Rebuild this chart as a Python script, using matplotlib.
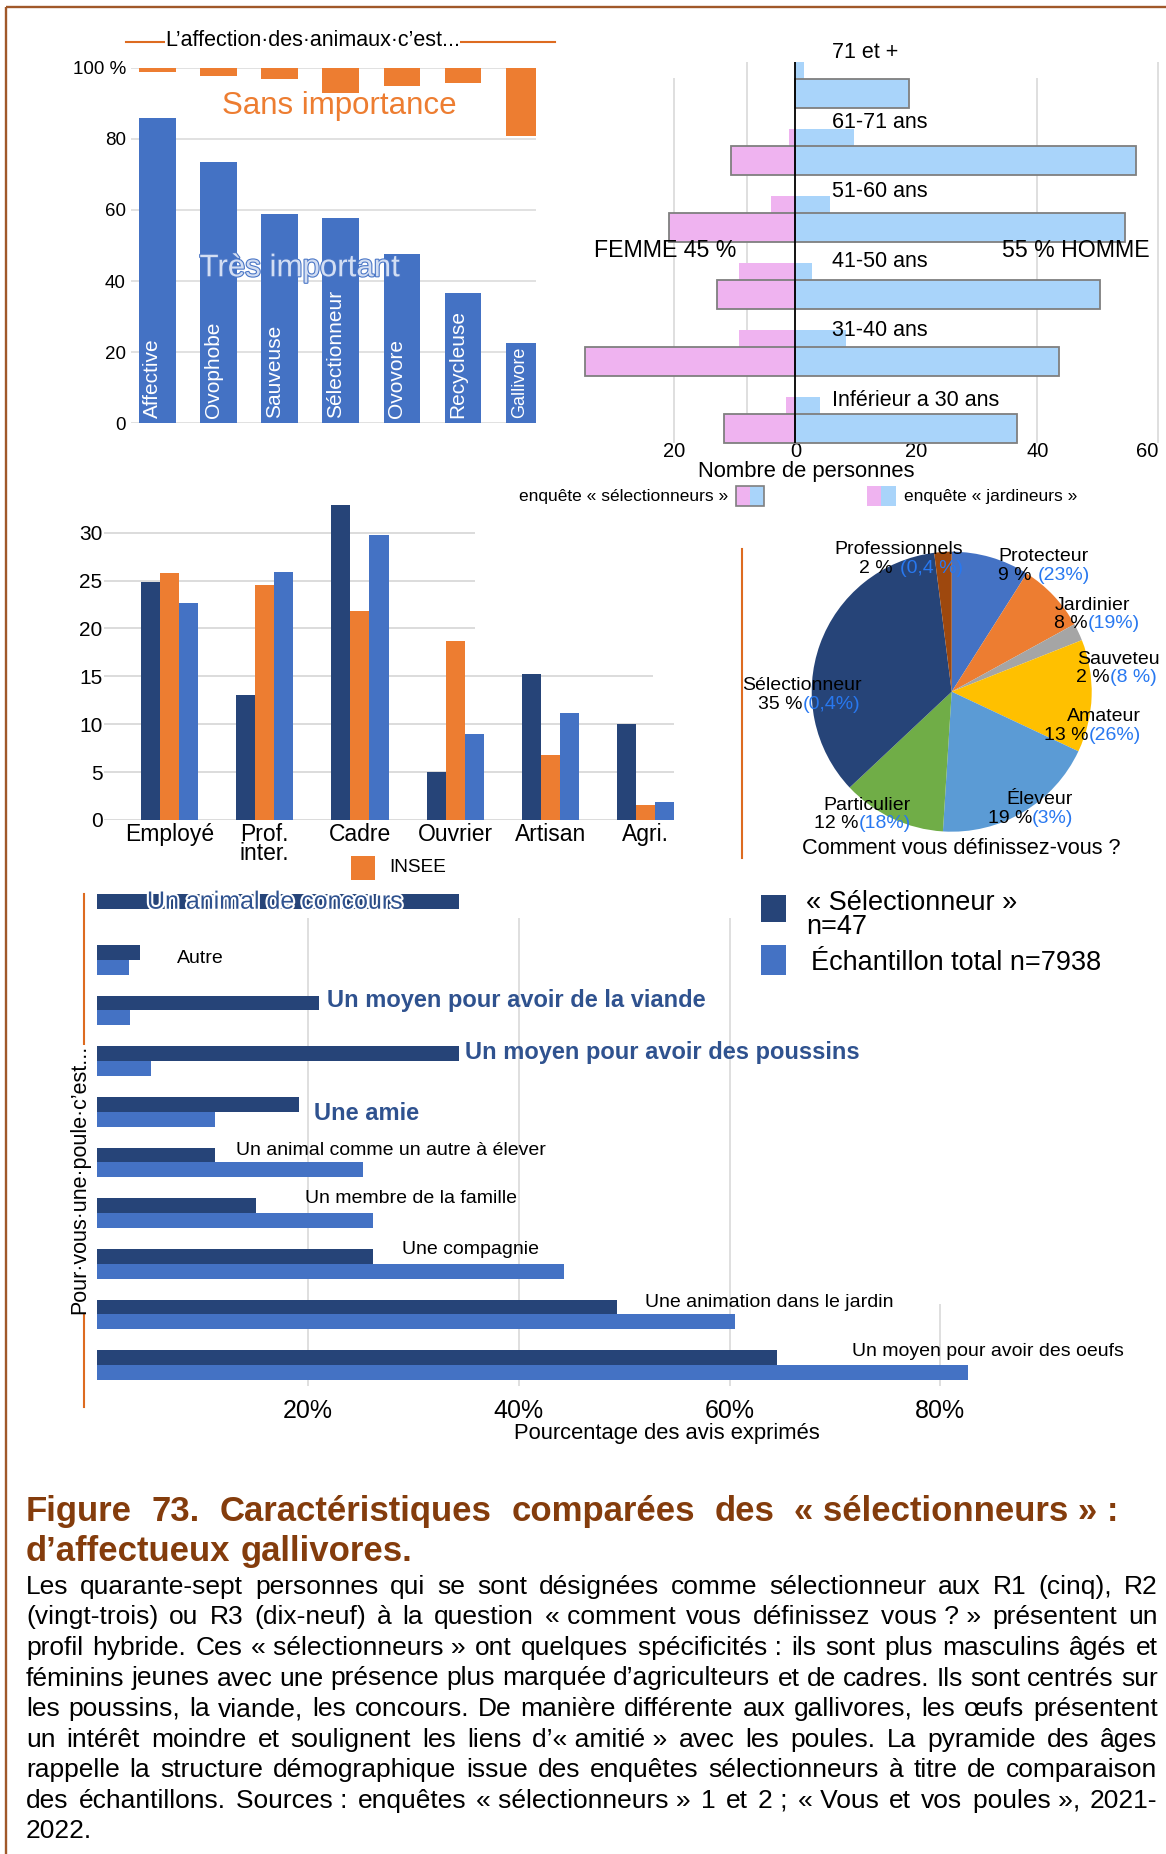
import matplotlib
matplotlib.use("Agg")
import matplotlib.pyplot as plt
import matplotlib.patheffects as pe
from matplotlib.patches import Rectangle
import numpy as np

plt.rcParams['font.family'] = ['Liberation Sans', 'DejaVu Sans']

# --- data -----------------------------------------------------------------
profils = ['Affective', 'Ovophobe', 'Sauveuse', 'Sélectionneur', 'Ovovore', 'Recycleuse', 'Gallivore']
tres_important = [85.8, 73.6, 58.8, 57.6, 47.6, 36.7, 22.7]
sans_importance = [1.1, 2.3, 3.3, 7.2, 5.2, 4.2, 19.2]
pct_ticks = [0, 20, 40, 60, 80, 100]
pct_labels = ['0', '20', '40', '60', '80', '100 %']

ages = ['Inférieur a 30 ans', '31-40 ans', '41-50 ans', '51-60 ans', '61-71 ans', '71 et +']
sel_femmes = [11.8, 34.7, 12.9, 20.9, 10.7, 0]
sel_hommes = [36.7, 43.6, 50.4, 54.5, 56.3, 18.7]
jard_femmes = [1.5, 9.3, 9.3, 4.0, 1.1, 0]
jard_hommes = [4.0, 8.4, 2.8, 5.7, 9.7, 1.5]
pyr_ticks = [-20, 0, 20, 40, 60]
pyr_labels = ['20', '0', '20', '40', '60']

csp = ['Employé', 'Prof.\ninter.', 'Cadre', 'Ouvrier', 'Artisan', 'Agri.']
csp_selectionneurs = [24.8, 13.1, 32.9, 5.0, 15.2, 10.0]
csp_insee = [25.8, 24.5, 21.8, 18.7, 6.8, 1.6]
csp_total = [22.7, 25.9, 29.8, 9.0, 11.2, 1.9]
csp_ticks = [0, 5, 10, 15, 20, 25, 30]

definitions = ['Protecteur', 'Jardinier', 'Sauveteu', 'Amateur', 'Éleveur', 'Particulier',
               'Sélectionneur', 'Professionnels']
def_parts = [9, 8, 2, 13, 19, 12, 35, 2]
def_total = ['(23%)', '(19%)', '(8 %)', '(26%)', '(3%)', '(18%)', '(0,4%)', '(0,4 %)']

poule = ['Un animal de concours', 'Autre', 'Un moyen pour avoir de la viande',
         'Un moyen pour avoir des poussins', 'Une amie', 'Un animal comme un autre à élever',
         'Un membre de la famille', 'Une compagnie', 'Une animation dans le jardin',
         'Un moyen pour avoir des oeufs']
poule_sel = [34.3, 4.1, 21.1, 34.3, 19.2, 11.2, 15.1, 26.2, 49.3, 64.5]
poule_total = [0, 3.0, 3.1, 5.1, 11.2, 25.2, 26.2, 44.3, 60.5, 82.6]
poule_ticks = [20, 40, 60, 80]
poule_tick_labels = ['20%', '40%', '60%', '80%']

titre = ['Figure 73. Caractéristiques comparées des «\xa0sélectionneurs\xa0»\xa0:',
         'd’affectueux gallivores.']
texte = [
    'Les quarante-sept personnes qui se sont désignées comme sélectionneur aux R1 (cinq), R2',
    '(vingt-trois) ou R3 (dix-neuf) à la question «\xa0comment vous définissez vous\xa0?\xa0» présentent un',
    'profil hybride. Ces «\xa0sélectionneurs\xa0» ont quelques spécificités\xa0: ils sont plus masculins âgés et',
    'féminins jeunes avec une présence plus marquée d’agriculteurs et de cadres. Ils sont centrés sur',
    'les poussins, la viande, les concours. De manière différente aux gallivores, les œufs présentent',
    'un intérêt moindre et soulignent les liens d’«\xa0amitié\xa0» avec les poules. La pyramide des âges',
    'rappelle la structure démographique issue des enquêtes sélectionneurs à titre de comparaison',
    'des échantillons. Sources\xa0: enquêtes «\xa0sélectionneurs\xa0» 1 et 2\xa0; «\xa0Vous et vos poules\xa0», 2021-',
    '2022.',
]

# --- colours ---------------------------------------------------------------
NAVY = '#264478'
BLUE = '#4472c4'
ORANGE = '#ed7d31'
PINK = '#efb3f0'
SKY = '#a9d4fa'
GRID = '#d9d9d9'
RULE = '#dd6b20'
FRAME = '#a0582a'
BROWN = '#843c0c'
VAL_BLUE = '#2878f0'
LAB_BLUE = '#2f528f'
pie_colors = ['#4472c4', '#ed7d31', '#a5a5a5', '#ffc000', '#5b9bd5', '#70ad47', '#264478', '#9e480e']

W, H = 1166, 1854
fig = plt.figure(figsize=(W / 100, H / 100), dpi=100)


def box(l, t, r, b):
    ax = fig.add_axes([l / W, 1 - b / H, (r - l) / W, (b - t) / H])
    ax.patch.set_alpha(0)
    for s in ax.spines.values():
        s.set_visible(False)
    return ax


# --- l'affection des animaux ------------------------------------------------
ax1 = box(131, 67.7, 536.4, 423.3)
x1 = np.arange(len(profils))
ax1.bar(x1, tres_important, width=0.6, color=BLUE, zorder=2)
ax1.bar(x1, sans_importance, bottom=100 - np.array(sans_importance), width=0.6, color=ORANGE, zorder=2)
ax1.set_xlim(-0.43, 6.2)
ax1.set_ylim(0, 100)
ax1.set_xticks([])
ax1.set_yticks(pct_ticks, pct_labels, fontsize=13.5)
ax1.tick_params(axis='y', length=0, pad=3.7)
ax1.yaxis.grid(True, color=GRID, lw=1.1)
ax1.set_axisbelow(True)
# the last label is squeezed to stay inside its short bar
name_size = [15, 15, 15, 15, 15, 15, 13]
for i, name in enumerate(profils):
    ax1.text(i - 0.08, 1.5, name, rotation=90, ha='center', va='bottom', color='white',
             fontsize=name_size[i], zorder=3)
ax1.text(2.97, 89.2, 'Sans importance', color=ORANGE, fontsize=22.5, ha='center', va='center')
ax1.text(2.33, 43.6, 'Très important', color='#d3def3', fontsize=22.5, ha='center', va='center', zorder=4,
         path_effects=[pe.withStroke(linewidth=1.6, foreground='#4a76c6')])

# --- pyramide des âges --------------------------------------------------------
ax2 = box(575, 55, 1160, 445)
y2 = np.arange(len(ages))
ax2.barh(y2 + 0.341, jard_hommes, height=0.254, color=SKY, zorder=2)
ax2.barh(y2 + 0.341, -np.array(jard_femmes), height=0.254, color=PINK, zorder=2)
ax2.barh(y2, sel_hommes, height=0.428, color=SKY, edgecolor='#7f7f7f', lw=1.3, zorder=2)
ax2.barh(y2, -np.array(sel_femmes), height=0.428, color=PINK, edgecolor='#7f7f7f', lw=1.3, zorder=2)
ax2.vlines([-20, 40], -0.22, 5.224, color=GRID, lw=1.2, zorder=0)
ax2.vlines([-8, 60], -0.22, 5.472, color=GRID, lw=1.2, zorder=0)
ax2.vlines(0, -0.22, 5.472, color='black', lw=1.3, zorder=3)
ax2.set_xlim(-36.43, 60.26)
ax2.set_ylim(-0.251, 5.572)
ax2.set_yticks([])
ax2.set_xticks(pyr_ticks, pyr_labels, fontsize=14.5)
ax2.tick_params(axis='x', length=0, pad=-2)
ax2.get_xticklabels()[-1].set_ha('right')
for i, age in enumerate(ages):
    ax2.text(6.1, 0.42 + 1.037 * i, age, fontsize=15.5, va='center', ha='left')

# --- catégories socio-professionnelles ---------------------------------------
ax3 = box(104, 500, 680, 820)
x3 = np.arange(len(csp))
ax3.bar(x3 - 0.2, csp_selectionneurs, 0.2, color=NAVY, zorder=2)
ax3.bar(x3, csp_insee, 0.2, color=ORANGE, zorder=2)
ax3.bar(x3 + 0.2, csp_total, 0.2, color=BLUE, zorder=2)
ax3.set_xlim(-0.687, 5.36)
ax3.set_ylim(0, 33.41)
grid_end = [5.30, 5.30, 5.30, 5.08, 3.21, 3.21, 3.21]
ax3.hlines(csp_ticks, -0.687, grid_end, color=GRID, lw=1.3, zorder=0)
ax3.set_yticks(csp_ticks, [str(v) for v in csp_ticks], fontsize=15)
ax3.set_xticks(x3, csp, fontsize=16.5)
ax3.tick_params(length=0)
ax3.tick_params(axis='y', pad=1)
ax3.tick_params(axis='x', pad=2)
for lab in ax3.get_xticklabels():
    lab.set_linespacing(0.8)

# --- comment vous définissez-vous ? -------------------------------------------
ax4 = box(811.7, 551.7, 1091.7, 831.7)
ax4.pie(def_parts, colors=pie_colors, startangle=90, counterclock=False, radius=1)
ax4.set_xlim(-1, 1)
ax4.set_ylim(-1, 1)

# --- pour vous une poule c'est... ---------------------------------------------
ax5 = box(97, 890, 1166, 1395)
r5 = np.arange(len(poule))
ax5.barh(r5 - 0.146, poule_sel, height=0.292, color=NAVY, zorder=2)
ax5.barh(r5 + 0.146, poule_total, height=0.292, color=BLUE, zorder=2)
ax5.vlines([20, 40, 60], 0.176, 9.41, color=GRID, lw=1.2, zorder=0)
ax5.vlines([80], 7.79, 9.41, color=GRID, lw=1.2, zorder=0)
ax5.set_xlim(0, 101.4)
ax5.set_ylim(9.59, -0.377)
ax5.set_yticks([])
ax5.set_xticks(poule_ticks, poule_tick_labels, fontsize=18)
ax5.tick_params(axis='x', length=0, pad=3)

lab_x = [4.74, 7.59, 21.8, 34.9, 20.6, 13.2, 19.7, 28.9, 51.95, 71.6]
lab_dy = [-0.146, -0.03, -0.2, -0.16, 0.04, -0.24, -0.28, -0.28, -0.24, -0.26]
for i, lab in enumerate(poule):
    if i == 0:
        ax5.text(lab_x[i], i + lab_dy[i], lab, fontsize=18, color=LAB_BLUE, va='center', zorder=4,
                 path_effects=[pe.withStroke(linewidth=3, foreground='white')])
    elif i in (2, 3, 4):
        ax5.text(lab_x[i], i + lab_dy[i], lab, fontsize=17, fontweight='bold', color=LAB_BLUE, va='center')
    else:
        ax5.text(lab_x[i], i + lab_dy[i], lab, fontsize=14, color='black', va='center')

# --- free text, legends and page rules (pixel coordinates) --------------------
ov = fig.add_axes([0, 0, 1, 1], zorder=10)
ov.set_xlim(0, W)
ov.set_ylim(H, 0)
ov.axis('off')

ov.plot([6, 6], [7, H], color=FRAME, lw=1.7, solid_capstyle='butt')
ov.plot([6, W], [7, 7], color=FRAME, lw=1.7, solid_capstyle='butt')

ov.plot([125.8, 555], [42.3, 42.3], color=RULE, lw=1.5)
ov.text(312.6, 40, 'L’affection·des·animaux·c’est...', fontsize=15.5, ha='center', va='center',
        bbox=dict(facecolor='white', edgecolor='none', pad=0))

ov.text(665.6, 250.7, 'FEMME 45 %', fontsize=16.7, ha='center', va='center')
ov.text(1075.5, 250.7, '55 % HOMME', fontsize=16.7, ha='center', va='center')
ov.text(806.6, 471, 'Nombre de personnes', fontsize=15.8, ha='center', va='center')

ov.text(519.4, 496.7, 'enquête « sélectionneurs »', fontsize=12.5, va='center')
ov.add_patch(Rectangle((736, 486), 13.75, 20, facecolor=PINK, edgecolor='none'))
ov.add_patch(Rectangle((749.75, 486), 13.75, 20, facecolor=SKY, edgecolor='none'))
ov.add_patch(Rectangle((736, 486), 27.5, 20, facecolor='none', edgecolor='#7f7f7f', lw=1.2))
ov.add_patch(Rectangle((867, 486), 14.3, 20, facecolor=PINK, edgecolor='none'))
ov.add_patch(Rectangle((881.3, 486), 14.3, 20, facecolor=SKY, edgecolor='none'))
ov.text(903.5, 496.7, 'enquête « jardineurs »', fontsize=12.5, va='center')

ov.add_patch(Rectangle((351, 856), 24, 24, facecolor=ORANGE, edgecolor='none'))
ov.text(389.3, 867.7, 'INSEE', fontsize=13.7, va='center')

# pie labels: name line, then share among selectors (black) and whole sample (blue)
ov.plot([741.7, 741.7], [549.3, 858.3], color=RULE, lw=1.5)
name_pos = [(998.3, 556.7, 'left'), (1055, 605, 'left'), (1076.7, 659.3, 'left'),
            (1066.7, 716.7, 'left'), (1006.7, 800, 'left'), (823.3, 805, 'left'),
            (741.7, 686, 'left'), (898.3, 549.3, 'center')]
val_pos = [(1031, 1038, 575), (1088, 1088, 623.3), (1110, 1110, 677.7), (1089, 1089, 735),
           (1032, 1032, 818.3), (859, 859, 823.3), (803, 803, 704.3), (893, 900, 568.3)]
for name, part, tot, (nx, ny, nha), (bx, vx, vy) in zip(definitions, def_parts, def_total, name_pos, val_pos):
    ov.text(nx, ny, name, fontsize=14, ha=nha, va='center')
    ov.text(bx, vy, f'{part} %', fontsize=14, ha='right', va='center')
    ov.text(vx, vy, tot, fontsize=14, ha='left', va='center', color=VAL_BLUE)
ov.text(960.8, 848.3, 'Comment vous définissez-vous ?', fontsize=15.7, ha='center', va='center')

ov.plot([84, 84], [894.3, 1407.2], color=RULE, lw=1.5)
ov.text(79.6, 1179.6, 'Pour·vous·une·poule·c’est...', fontsize=15.5, rotation=90, ha='center', va='center',
        bbox=dict(facecolor='white', edgecolor='none', pad=0))
ov.text(666.6, 1433.8, 'Pourcentage des avis exprimés', fontsize=15.8, ha='center', va='center')

ov.add_patch(Rectangle((760.7, 895), 25, 26.7, facecolor=NAVY, edgecolor='none'))
ov.add_patch(Rectangle((760.7, 945), 25, 30, facecolor=BLUE, edgecolor='none'))
ov.text(806, 902.7, '« Sélectionneur »', fontsize=19.5, va='center')
ov.text(806, 926.7, 'n=47', fontsize=19.5, va='center')
ov.text(811, 963.3, 'Échantillon total n=7938', fontsize=19.5, va='center')

# --- caption, justified word by word ------------------------------------------
renderer = fig.canvas.get_renderer()


def justify(line, y, x0, x1, size, last=False, **kw):
    words = line.split(' ')
    arts = [ov.text(x0, y, w, fontsize=size, ha='left', va='center', **kw) for w in words]
    widths = [a.get_window_extent(renderer).width for a in arts]
    if last or len(arts) == 1:
        gap = 0.278 * size * 100 / 72
    else:
        gap = max(2.0, (x1 - x0 - sum(widths)) / (len(arts) - 1))
    x = x0
    for a, w in zip(arts, widths):
        a.set_x(x)
        x += w + gap


cap_kw = dict(fontweight='bold', color=BROWN)
justify(titre[0], 1511.7, 26, 1119, 25, **cap_kw)
justify(titre[1], 1551.7, 26, 1119, 25, last=True, **cap_kw)

for k, ln in enumerate(texte):
    justify(ln, 1586.7 + 30.6 * k, 26, 1157.6, 19, last=(k == len(texte) - 1))

fig.savefig('out.png', dpi=100)
